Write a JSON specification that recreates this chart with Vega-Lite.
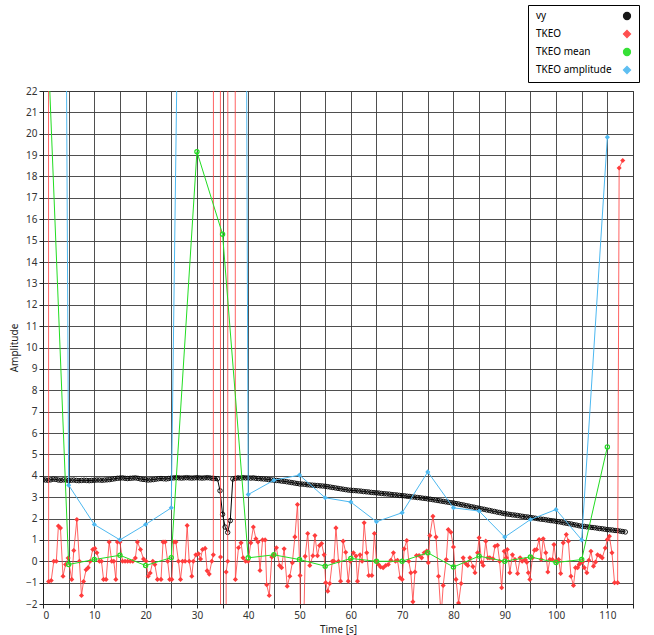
{
"$schema":"https://vega.github.io/schema/vega-lite/v6.json",
"width":590,"height":513,
"autosize":{"type":"none"},
"padding":{"left":43,"top":91,"right":21,"bottom":31},
"background":"white",
"config":{
 "view":{"stroke":"#222","strokeWidth":1},
 "font":"Noto Sans",
 "axis":{"labelFont":"Noto Sans","labelFontSize":10,"labelColor":"#333","titleFont":"Noto Sans","titleFontSize":10,"titleFontWeight":"normal","titleColor":"#222","domainColor":"#222","tickColor":"#222","tickSize":4,"gridColor":"#3c3c3c","gridWidth":1,"gridOpacity":0.9},
 "legend":{"orient":"none","legendX":485,"legendY":-86,"strokeColor":"#000","fillColor":"#fff","padding":6,"labelFont":"Noto Sans","labelFontSize":10,"labelColor":"#000","rowPadding":6,"symbolSize":50,"labelOffset":-96,"symbolOffset":88,"symbolStrokeWidth":1.2}
},
"data":{"values":[
{"s":"vy","t":0,"v":3.82},{"s":"vy","t":0.5,"v":3.8},{"s":"vy","t":1,"v":3.79},{"s":"vy","t":1.5,"v":3.81},{"s":"vy","t":2,"v":3.84},{"s":"vy","t":2.5,"v":3.83},{"s":"vy","t":3,"v":3.8},{"s":"vy","t":3.5,"v":3.79},{"s":"vy","t":4,"v":3.81},{"s":"vy","t":4.5,"v":3.8},
{"s":"vy","t":5,"v":3.78},{"s":"vy","t":5.5,"v":3.79},{"s":"vy","t":6,"v":3.8},{"s":"vy","t":6.5,"v":3.78},{"s":"vy","t":7,"v":3.77},{"s":"vy","t":7.5,"v":3.78},{"s":"vy","t":8,"v":3.79},{"s":"vy","t":8.5,"v":3.78},{"s":"vy","t":9,"v":3.77},{"s":"vy","t":9.5,"v":3.78},
{"s":"vy","t":10,"v":3.79},{"s":"vy","t":10.5,"v":3.8},{"s":"vy","t":11,"v":3.8},{"s":"vy","t":11.5,"v":3.79},{"s":"vy","t":12,"v":3.8},{"s":"vy","t":12.5,"v":3.81},{"s":"vy","t":13,"v":3.82},{"s":"vy","t":13.5,"v":3.84},{"s":"vy","t":14,"v":3.86},{"s":"vy","t":14.5,"v":3.88},
{"s":"vy","t":15,"v":3.89},{"s":"vy","t":15.5,"v":3.9},{"s":"vy","t":16,"v":3.88},{"s":"vy","t":16.5,"v":3.87},{"s":"vy","t":17,"v":3.88},{"s":"vy","t":17.5,"v":3.89},{"s":"vy","t":18,"v":3.9},{"s":"vy","t":18.5,"v":3.88},{"s":"vy","t":19,"v":3.85},{"s":"vy","t":19.5,"v":3.83},
{"s":"vy","t":20,"v":3.82},{"s":"vy","t":20.5,"v":3.8},{"s":"vy","t":21,"v":3.81},{"s":"vy","t":21.5,"v":3.82},{"s":"vy","t":22,"v":3.84},{"s":"vy","t":22.5,"v":3.86},{"s":"vy","t":23,"v":3.87},{"s":"vy","t":23.5,"v":3.86},{"s":"vy","t":24,"v":3.85},{"s":"vy","t":24.5,"v":3.87},
{"s":"vy","t":25,"v":3.89},{"s":"vy","t":25.5,"v":3.9},{"s":"vy","t":26,"v":3.91},{"s":"vy","t":26.5,"v":3.9},{"s":"vy","t":27,"v":3.89},{"s":"vy","t":27.5,"v":3.9},{"s":"vy","t":28,"v":3.91},{"s":"vy","t":28.5,"v":3.9},{"s":"vy","t":29,"v":3.89},{"s":"vy","t":29.5,"v":3.9},
{"s":"vy","t":30,"v":3.91},{"s":"vy","t":30.5,"v":3.9},{"s":"vy","t":31,"v":3.89},{"s":"vy","t":31.5,"v":3.9},{"s":"vy","t":32,"v":3.91},{"s":"vy","t":32.5,"v":3.9},{"s":"vy","t":33,"v":3.88},{"s":"vy","t":33.5,"v":3.87},{"s":"vy","t":34,"v":3.86},{"s":"vy","t":34.5,"v":3.3},
{"s":"vy","t":35,"v":2.2},{"s":"vy","t":35.5,"v":1.6},{"s":"vy","t":36,"v":1.35},{"s":"vy","t":36.5,"v":1.9},{"s":"vy","t":37,"v":3.85},{"s":"vy","t":37.5,"v":3.88},{"s":"vy","t":38,"v":3.9},{"s":"vy","t":38.5,"v":3.89},{"s":"vy","t":39,"v":3.91},{"s":"vy","t":39.5,"v":3.9},
{"s":"vy","t":40,"v":3.9},{"s":"vy","t":40.5,"v":3.89},{"s":"vy","t":41,"v":3.9},{"s":"vy","t":41.5,"v":3.88},{"s":"vy","t":42,"v":3.87},{"s":"vy","t":42.5,"v":3.86},{"s":"vy","t":43,"v":3.85},{"s":"vy","t":43.5,"v":3.84},{"s":"vy","t":44,"v":3.82},{"s":"vy","t":44.5,"v":3.81},
{"s":"vy","t":45,"v":3.79},{"s":"vy","t":45.5,"v":3.78},{"s":"vy","t":46,"v":3.77},{"s":"vy","t":46.5,"v":3.75},{"s":"vy","t":47,"v":3.74},{"s":"vy","t":47.5,"v":3.72},{"s":"vy","t":48,"v":3.7},{"s":"vy","t":48.5,"v":3.68},{"s":"vy","t":49,"v":3.66},{"s":"vy","t":49.5,"v":3.64},
{"s":"vy","t":50,"v":3.62},{"s":"vy","t":50.5,"v":3.61},{"s":"vy","t":51,"v":3.6},{"s":"vy","t":51.5,"v":3.58},{"s":"vy","t":52,"v":3.57},{"s":"vy","t":52.5,"v":3.56},{"s":"vy","t":53,"v":3.55},{"s":"vy","t":53.5,"v":3.54},{"s":"vy","t":54,"v":3.53},{"s":"vy","t":54.5,"v":3.52},
{"s":"vy","t":55,"v":3.51},{"s":"vy","t":55.5,"v":3.49},{"s":"vy","t":56,"v":3.47},{"s":"vy","t":56.5,"v":3.45},{"s":"vy","t":57,"v":3.43},{"s":"vy","t":57.5,"v":3.41},{"s":"vy","t":58,"v":3.39},{"s":"vy","t":58.5,"v":3.37},{"s":"vy","t":59,"v":3.35},{"s":"vy","t":59.5,"v":3.33},
{"s":"vy","t":60,"v":3.32},{"s":"vy","t":60.5,"v":3.31},{"s":"vy","t":61,"v":3.3},{"s":"vy","t":61.5,"v":3.29},{"s":"vy","t":62,"v":3.28},{"s":"vy","t":62.5,"v":3.26},{"s":"vy","t":63,"v":3.25},{"s":"vy","t":63.5,"v":3.24},{"s":"vy","t":64,"v":3.22},{"s":"vy","t":64.5,"v":3.21},
{"s":"vy","t":65,"v":3.2},{"s":"vy","t":65.5,"v":3.19},{"s":"vy","t":66,"v":3.17},{"s":"vy","t":66.5,"v":3.16},{"s":"vy","t":67,"v":3.15},{"s":"vy","t":67.5,"v":3.14},{"s":"vy","t":68,"v":3.12},{"s":"vy","t":68.5,"v":3.11},{"s":"vy","t":69,"v":3.1},{"s":"vy","t":69.5,"v":3.08},
{"s":"vy","t":70,"v":3.07},{"s":"vy","t":70.5,"v":3.06},{"s":"vy","t":71,"v":3.04},{"s":"vy","t":71.5,"v":3.03},{"s":"vy","t":72,"v":3.01},{"s":"vy","t":72.5,"v":3.0},{"s":"vy","t":73,"v":2.98},{"s":"vy","t":73.5,"v":2.97},{"s":"vy","t":74,"v":2.95},{"s":"vy","t":74.5,"v":2.94},
{"s":"vy","t":75,"v":2.92},{"s":"vy","t":75.5,"v":2.9},{"s":"vy","t":76,"v":2.88},{"s":"vy","t":76.5,"v":2.86},{"s":"vy","t":77,"v":2.84},{"s":"vy","t":77.5,"v":2.82},{"s":"vy","t":78,"v":2.8},{"s":"vy","t":78.5,"v":2.78},{"s":"vy","t":79,"v":2.76},{"s":"vy","t":79.5,"v":2.74},
{"s":"vy","t":80,"v":2.73},{"s":"vy","t":80.5,"v":2.7},{"s":"vy","t":81,"v":2.68},{"s":"vy","t":81.5,"v":2.65},{"s":"vy","t":82,"v":2.63},{"s":"vy","t":82.5,"v":2.6},{"s":"vy","t":83,"v":2.58},{"s":"vy","t":83.5,"v":2.55},{"s":"vy","t":84,"v":2.53},{"s":"vy","t":84.5,"v":2.5},
{"s":"vy","t":85,"v":2.48},{"s":"vy","t":85.5,"v":2.45},{"s":"vy","t":86,"v":2.43},{"s":"vy","t":86.5,"v":2.4},{"s":"vy","t":87,"v":2.38},{"s":"vy","t":87.5,"v":2.35},{"s":"vy","t":88,"v":2.33},{"s":"vy","t":88.5,"v":2.3},{"s":"vy","t":89,"v":2.28},{"s":"vy","t":89.5,"v":2.25},
{"s":"vy","t":90,"v":2.23},{"s":"vy","t":90.5,"v":2.21},{"s":"vy","t":91,"v":2.19},{"s":"vy","t":91.5,"v":2.17},{"s":"vy","t":92,"v":2.16},{"s":"vy","t":92.5,"v":2.14},{"s":"vy","t":93,"v":2.12},{"s":"vy","t":93.5,"v":2.1},{"s":"vy","t":94,"v":2.08},{"s":"vy","t":94.5,"v":2.07},
{"s":"vy","t":95,"v":2.05},{"s":"vy","t":95.5,"v":2.03},{"s":"vy","t":96,"v":2.01},{"s":"vy","t":96.5,"v":1.99},{"s":"vy","t":97,"v":1.97},{"s":"vy","t":97.5,"v":1.96},{"s":"vy","t":98,"v":1.94},{"s":"vy","t":98.5,"v":1.92},{"s":"vy","t":99,"v":1.9},{"s":"vy","t":99.5,"v":1.89},
{"s":"vy","t":100,"v":1.87},{"s":"vy","t":100.5,"v":1.85},{"s":"vy","t":101,"v":1.83},{"s":"vy","t":101.5,"v":1.8},{"s":"vy","t":102,"v":1.78},{"s":"vy","t":102.5,"v":1.76},{"s":"vy","t":103,"v":1.74},{"s":"vy","t":103.5,"v":1.71},{"s":"vy","t":104,"v":1.69},{"s":"vy","t":104.5,"v":1.66},
{"s":"vy","t":105,"v":1.64},{"s":"vy","t":105.5,"v":1.63},{"s":"vy","t":106,"v":1.61},{"s":"vy","t":106.5,"v":1.6},{"s":"vy","t":107,"v":1.58},{"s":"vy","t":107.5,"v":1.57},{"s":"vy","t":108,"v":1.55},{"s":"vy","t":108.5,"v":1.53},{"s":"vy","t":109,"v":1.52},{"s":"vy","t":109.5,"v":1.5},
{"s":"vy","t":110,"v":1.48},{"s":"vy","t":110.5,"v":1.47},{"s":"vy","t":111,"v":1.46},{"s":"vy","t":111.5,"v":1.44},{"s":"vy","t":112,"v":1.43},{"s":"vy","t":112.5,"v":1.41},{"s":"vy","t":113,"v":1.39},{"s":"vy","t":113.5,"v":1.37},
{"s":"TKEO","t":0.6,"v":500},{"s":"TKEO","t":1.1,"v":-0.95},{"s":"TKEO","t":1.6,"v":-0.9},{"s":"TKEO","t":2.1,"v":0},{"s":"TKEO","t":2.6,"v":0},{"s":"TKEO","t":3.0,"v":1.65},{"s":"TKEO","t":3.4,"v":1.55},{"s":"TKEO","t":3.9,"v":-0.7},{"s":"TKEO","t":4.4,"v":-0.15},{"s":"TKEO","t":4.9,"v":0.15},
{"s":"TKEO","t":5.6,"v":-0.85},{"s":"TKEO","t":6.0,"v":0.5},{"s":"TKEO","t":6.6,"v":1.95},{"s":"TKEO","t":7.1,"v":0},{"s":"TKEO","t":7.5,"v":-1.6},{"s":"TKEO","t":7.9,"v":-0.95},{"s":"TKEO","t":8.4,"v":-0.4},{"s":"TKEO","t":8.8,"v":-0.3},{"s":"TKEO","t":9.2,"v":0},{"s":"TKEO","t":9.7,"v":0.55},
{"s":"TKEO","t":10.1,"v":0.6},{"s":"TKEO","t":10.5,"v":0.4},{"s":"TKEO","t":11.0,"v":0},{"s":"TKEO","t":11.4,"v":0},{"s":"TKEO","t":11.8,"v":-0.85},{"s":"TKEO","t":12.3,"v":-0.85},{"s":"TKEO","t":12.9,"v":0.9},{"s":"TKEO","t":13.4,"v":0},{"s":"TKEO","t":13.8,"v":0},{"s":"TKEO","t":14.2,"v":-0.85},
{"s":"TKEO","t":14.5,"v":0.9},{"s":"TKEO","t":15.0,"v":0.9},{"s":"TKEO","t":15.5,"v":0},{"s":"TKEO","t":16.0,"v":0},{"s":"TKEO","t":16.5,"v":0},{"s":"TKEO","t":17.0,"v":0},{"s":"TKEO","t":17.5,"v":0},{"s":"TKEO","t":18.0,"v":0.15},{"s":"TKEO","t":18.4,"v":0.9},{"s":"TKEO","t":19.0,"v":0.55},
{"s":"TKEO","t":19.6,"v":0.1},{"s":"TKEO","t":20.1,"v":0},{"s":"TKEO","t":20.5,"v":-0.7},{"s":"TKEO","t":20.9,"v":-0.55},{"s":"TKEO","t":21.4,"v":0},{"s":"TKEO","t":21.8,"v":-0.15},{"s":"TKEO","t":22.3,"v":-0.85},{"s":"TKEO","t":23.0,"v":-0.85},{"s":"TKEO","t":23.4,"v":0.9},{"s":"TKEO","t":23.8,"v":0.9},
{"s":"TKEO","t":24.3,"v":0},{"s":"TKEO","t":24.7,"v":-0.85},{"s":"TKEO","t":25.1,"v":-0.85},{"s":"TKEO","t":25.5,"v":0.9},{"s":"TKEO","t":25.9,"v":0.9},{"s":"TKEO","t":26.4,"v":0},{"s":"TKEO","t":26.8,"v":-0.85},{"s":"TKEO","t":27.2,"v":0},{"s":"TKEO","t":27.7,"v":0},{"s":"TKEO","t":28.1,"v":1.67},
{"s":"TKEO","t":28.5,"v":0},{"s":"TKEO","t":29.0,"v":-0.7},{"s":"TKEO","t":29.3,"v":0},{"s":"TKEO","t":29.8,"v":0.3},{"s":"TKEO","t":30.3,"v":0.35},{"s":"TKEO","t":30.7,"v":0.1},{"s":"TKEO","t":31.1,"v":0.55},{"s":"TKEO","t":31.6,"v":0.6},{"s":"TKEO","t":32.0,"v":-0.45},{"s":"TKEO","t":32.4,"v":-0.6},
{"s":"TKEO","t":32.9,"v":0},{"s":"TKEO","t":33.2,"v":0.3},{"s":"TKEO","t":33.9,"v":800},{"s":"TKEO","t":34.6,"v":0.2},{"s":"TKEO","t":35.1,"v":-500},{"s":"TKEO","t":35.7,"v":-0.5},{"s":"TKEO","t":36.0,"v":0},{"s":"TKEO","t":36.7,"v":600},{"s":"TKEO","t":37.5,"v":-0.85},{"s":"TKEO","t":38.1,"v":0.63},
{"s":"TKEO","t":38.6,"v":0.86},{"s":"TKEO","t":39.0,"v":0.16},{"s":"TKEO","t":39.5,"v":0},{"s":"TKEO","t":40.0,"v":0},{"s":"TKEO","t":40.5,"v":0.86},{"s":"TKEO","t":41.0,"v":1.6},{"s":"TKEO","t":41.5,"v":1.05},{"s":"TKEO","t":41.9,"v":0.9},{"s":"TKEO","t":42.3,"v":-0.43},{"s":"TKEO","t":42.8,"v":1.0},
{"s":"TKEO","t":43.3,"v":1.0},{"s":"TKEO","t":43.6,"v":-1.1},{"s":"TKEO","t":44.1,"v":-1.6},{"s":"TKEO","t":44.6,"v":0.2},{"s":"TKEO","t":45.0,"v":0.3},{"s":"TKEO","t":45.5,"v":0.63},{"s":"TKEO","t":46.1,"v":-0.2},{"s":"TKEO","t":46.5,"v":-0.3},{"s":"TKEO","t":47.0,"v":0.58},{"s":"TKEO","t":47.6,"v":-1.17},
{"s":"TKEO","t":48.1,"v":-0.7},{"s":"TKEO","t":48.6,"v":-0.07},{"s":"TKEO","t":49.1,"v":1.14},{"s":"TKEO","t":49.6,"v":2.65},{"s":"TKEO","t":50.1,"v":-0.67},{"s":"TKEO","t":50.4,"v":-8},{"s":"TKEO","t":51.1,"v":0.23},{"s":"TKEO","t":51.6,"v":1.3},{"s":"TKEO","t":52.0,"v":-0.2},{"s":"TKEO","t":52.6,"v":0.26},
{"s":"TKEO","t":53.0,"v":1.2},{"s":"TKEO","t":53.5,"v":0.26},{"s":"TKEO","t":53.9,"v":0.74},{"s":"TKEO","t":54.3,"v":0.83},{"s":"TKEO","t":54.8,"v":0.3},{"s":"TKEO","t":55.1,"v":-1.0},{"s":"TKEO","t":55.5,"v":-1.4},{"s":"TKEO","t":55.9,"v":-1.04},{"s":"TKEO","t":56.4,"v":0},{"s":"TKEO","t":56.7,"v":0},
{"s":"TKEO","t":57.1,"v":1.56},{"s":"TKEO","t":57.6,"v":0},{"s":"TKEO","t":58.0,"v":-0.93},{"s":"TKEO","t":58.5,"v":0.94},{"s":"TKEO","t":59.0,"v":0.42},{"s":"TKEO","t":59.5,"v":-0.93},{"s":"TKEO","t":59.9,"v":0},{"s":"TKEO","t":60.5,"v":0.4},{"s":"TKEO","t":61.0,"v":0.24},{"s":"TKEO","t":61.3,"v":-0.93},
{"s":"TKEO","t":61.8,"v":0.3},{"s":"TKEO","t":62.2,"v":0},{"s":"TKEO","t":62.6,"v":1.8},{"s":"TKEO","t":63.1,"v":0.4},{"s":"TKEO","t":63.5,"v":-0.67},{"s":"TKEO","t":64.1,"v":-0.67},{"s":"TKEO","t":64.6,"v":1.3},{"s":"TKEO","t":65.0,"v":0},{"s":"TKEO","t":65.4,"v":-0.15},{"s":"TKEO","t":65.8,"v":-0.27},
{"s":"TKEO","t":66.3,"v":-0.3},{"s":"TKEO","t":66.8,"v":-0.2},{"s":"TKEO","t":67.3,"v":-0.15},{"s":"TKEO","t":67.8,"v":0.05},{"s":"TKEO","t":68.3,"v":0.4},{"s":"TKEO","t":68.7,"v":0},{"s":"TKEO","t":69.1,"v":0.05},{"s":"TKEO","t":69.6,"v":-0.77},{"s":"TKEO","t":70.0,"v":-0.85},{"s":"TKEO","t":70.4,"v":0.58},
{"s":"TKEO","t":70.9,"v":0.97},{"s":"TKEO","t":71.3,"v":0},{"s":"TKEO","t":71.7,"v":-0.54},{"s":"TKEO","t":72.1,"v":-1.9},{"s":"TKEO","t":72.5,"v":-0.5},{"s":"TKEO","t":72.8,"v":0.27},{"s":"TKEO","t":73.3,"v":0.27},{"s":"TKEO","t":73.8,"v":0.16},{"s":"TKEO","t":74.3,"v":0.4},{"s":"TKEO","t":74.8,"v":0.48},
{"s":"TKEO","t":75.1,"v":-0.07},{"s":"TKEO","t":75.4,"v":1.2},{"s":"TKEO","t":76.0,"v":2.1},{"s":"TKEO","t":76.6,"v":1.13},{"s":"TKEO","t":77.1,"v":-0.7},{"s":"TKEO","t":77.6,"v":-2.6},{"s":"TKEO","t":78.0,"v":-1.13},{"s":"TKEO","t":78.6,"v":0.08},{"s":"TKEO","t":79.0,"v":1.48},{"s":"TKEO","t":79.5,"v":1.36},
{"s":"TKEO","t":80.0,"v":0.67},{"s":"TKEO","t":80.5,"v":-0.85},{"s":"TKEO","t":81.0,"v":-1.95},{"s":"TKEO","t":81.5,"v":-1.04},{"s":"TKEO","t":81.9,"v":0.16},{"s":"TKEO","t":82.4,"v":-0.1},{"s":"TKEO","t":82.8,"v":-0.2},{"s":"TKEO","t":83.2,"v":0.16},{"s":"TKEO","t":83.8,"v":-0.25},{"s":"TKEO","t":84.2,"v":-0.54},
{"s":"TKEO","t":84.7,"v":0.4},{"s":"TKEO","t":85.0,"v":1.1},{"s":"TKEO","t":85.5,"v":-0.05},{"s":"TKEO","t":85.8,"v":-0.2},{"s":"TKEO","t":86.3,"v":0.94},{"s":"TKEO","t":86.7,"v":0.16},{"s":"TKEO","t":87.1,"v":0.16},{"s":"TKEO","t":87.7,"v":0.12},{"s":"TKEO","t":88.1,"v":0.7},{"s":"TKEO","t":88.6,"v":0.75},
{"s":"TKEO","t":89.0,"v":0},{"s":"TKEO","t":89.4,"v":-1.24},{"s":"TKEO","t":89.9,"v":0.47},{"s":"TKEO","t":90.3,"v":0.16},{"s":"TKEO","t":90.5,"v":0.55},{"s":"TKEO","t":91.0,"v":-0.54},{"s":"TKEO","t":91.5,"v":0.3},{"s":"TKEO","t":92.0,"v":0.08},{"s":"TKEO","t":92.5,"v":-0.57},{"s":"TKEO","t":93.0,"v":0.16},
{"s":"TKEO","t":93.4,"v":0},{"s":"TKEO","t":94.0,"v":0.08},{"s":"TKEO","t":94.3,"v":-0.05},{"s":"TKEO","t":94.6,"v":-0.54},{"s":"TKEO","t":94.9,"v":-0.85},{"s":"TKEO","t":95.4,"v":0.16},{"s":"TKEO","t":95.8,"v":0.52},{"s":"TKEO","t":96.2,"v":0.55},{"s":"TKEO","t":96.7,"v":1.02},{"s":"TKEO","t":97.1,"v":0.08},
{"s":"TKEO","t":97.5,"v":1.05},{"s":"TKEO","t":98.0,"v":0.4},{"s":"TKEO","t":98.4,"v":-0.5},{"s":"TKEO","t":98.8,"v":0.08},{"s":"TKEO","t":99.3,"v":0.08},{"s":"TKEO","t":99.6,"v":0.78},{"s":"TKEO","t":100.0,"v":0},{"s":"TKEO","t":100.5,"v":0.08},{"s":"TKEO","t":100.9,"v":-0.57},{"s":"TKEO","t":101.4,"v":0.86},
{"s":"TKEO","t":102.0,"v":1.25},{"s":"TKEO","t":102.4,"v":0.94},{"s":"TKEO","t":102.9,"v":-0.7},{"s":"TKEO","t":103.4,"v":-1.13},{"s":"TKEO","t":103.8,"v":-0.3},{"s":"TKEO","t":104.2,"v":-0.3},{"s":"TKEO","t":104.5,"v":-0.15},{"s":"TKEO","t":104.8,"v":-0.07},{"s":"TKEO","t":105.2,"v":-0.02},{"s":"TKEO","t":105.5,"v":-0.3},
{"s":"TKEO","t":106.0,"v":-0.54},{"s":"TKEO","t":106.4,"v":0.05},{"s":"TKEO","t":106.8,"v":0.47},{"s":"TKEO","t":107.3,"v":-0.23},{"s":"TKEO","t":107.7,"v":-0.04},{"s":"TKEO","t":108.1,"v":0.3},{"s":"TKEO","t":108.6,"v":0.24},{"s":"TKEO","t":109.0,"v":0.16},{"s":"TKEO","t":109.6,"v":0.62},{"s":"TKEO","t":110.0,"v":1.02},
{"s":"TKEO","t":110.4,"v":1.17},{"s":"TKEO","t":110.9,"v":0.4},{"s":"TKEO","t":111.4,"v":-1.0},{"s":"TKEO","t":112.0,"v":-1.0},{"s":"TKEO","t":112.3,"v":18.4},{"s":"TKEO","t":113.0,"v":18.75},
{"s":"TKEO mean","t":0,"v":30},{"s":"TKEO mean","t":5,"v":-0.15},{"s":"TKEO mean","t":10,"v":0.08},{"s":"TKEO mean","t":15,"v":0.28},{"s":"TKEO mean","t":20,"v":-0.2},{"s":"TKEO mean","t":25,"v":0.17},{"s":"TKEO mean","t":30,"v":19.16},{"s":"TKEO mean","t":35,"v":15.3},{"s":"TKEO mean","t":40,"v":0.16},{"s":"TKEO mean","t":45,"v":0.3},{"s":"TKEO mean","t":50,"v":0.08},{"s":"TKEO mean","t":55,"v":-0.23},
{"s":"TKEO mean","t":60,"v":0.13},{"s":"TKEO mean","t":65,"v":0},{"s":"TKEO mean","t":70,"v":0},{"s":"TKEO mean","t":75,"v":0.4},{"s":"TKEO mean","t":80,"v":-0.27},{"s":"TKEO mean","t":85,"v":0.24},{"s":"TKEO mean","t":90,"v":0},{"s":"TKEO mean","t":95,"v":0.2},{"s":"TKEO mean","t":100,"v":-0.06},{"s":"TKEO mean","t":105,"v":0.08},{"s":"TKEO mean","t":110,"v":5.35},
{"s":"TKEO amplitude","t":0,"v":233},{"s":"TKEO amplitude","t":5,"v":3.56},{"s":"TKEO amplitude","t":10,"v":1.72},{"s":"TKEO amplitude","t":15,"v":1.0},{"s":"TKEO amplitude","t":20,"v":1.72},{"s":"TKEO amplitude","t":25,"v":2.5},{"s":"TKEO amplitude","t":30,"v":95},{"s":"TKEO amplitude","t":35,"v":318},{"s":"TKEO amplitude","t":40,"v":3.12},{"s":"TKEO amplitude","t":45,"v":3.79},{"s":"TKEO amplitude","t":50,"v":4.03},{"s":"TKEO amplitude","t":55,"v":2.97},
{"s":"TKEO amplitude","t":60,"v":2.77},{"s":"TKEO amplitude","t":65,"v":1.85},{"s":"TKEO amplitude","t":70,"v":2.27},{"s":"TKEO amplitude","t":75,"v":4.18},{"s":"TKEO amplitude","t":80,"v":2.5},{"s":"TKEO amplitude","t":85,"v":2.35},{"s":"TKEO amplitude","t":90,"v":1.13},{"s":"TKEO amplitude","t":95,"v":1.95},{"s":"TKEO amplitude","t":100,"v":2.42},{"s":"TKEO amplitude","t":105,"v":1.0},{"s":"TKEO amplitude","t":110,"v":19.84}
]},
"encoding":{
 "x":{"field":"t","type":"quantitative","scale":{"domain":[0,115],"nice":false,"zero":false},"axis":{"values":[0,5,10,15,20,25,30,35,40,45,50,55,60,65,70,75,80,85,90,95,100,105,110,115],"title":"Time [s]","titlePadding":4,"labelPadding":2}},
 "y":{"field":"v","type":"quantitative","scale":{"domain":[-2,22],"nice":false,"zero":false},"axis":{"values":[-2,-1,0,1,2,3,4,5,6,7,8,9,10,11,12,13,14,15,16,17,18,19,20,21,22],"title":"Amplitude","titlePadding":6,"labelPadding":2}},
 "color":{"field":"s","type":"nominal","scale":{"domain":["vy","TKEO","TKEO mean","TKEO amplitude"],"range":["#000000","#ff3c3c","#22dd22","#4db8f0"]},"legend":{"title":null}}
},
"layer":[
 {"transform":[{"filter":"datum.s==='vy'"}],"mark":{"type":"line","clip":true,"strokeWidth":1}},
 {"transform":[{"filter":"datum.s==='vy'"}],"mark":{"type":"point","clip":true,"filled":false,"size":20,"strokeWidth":1,"opacity":0.9},"encoding":{"shape":{"field":"s","type":"nominal","scale":{"domain":["vy","TKEO","TKEO mean","TKEO amplitude"],"range":["circle","diamond","circle","diamond"]},"legend":{"title":null}}}},
 {"transform":[{"filter":"datum.s==='TKEO'"}],"mark":{"type":"line","clip":true,"strokeWidth":1,"strokeOpacity":0.8}},
 {"transform":[{"filter":"datum.s==='TKEO'"}],"mark":{"type":"point","clip":true,"filled":true,"size":26,"opacity":1},"encoding":{"shape":{"field":"s","type":"nominal"}}},
 {"transform":[{"filter":"datum.s==='TKEO mean'"}],"mark":{"type":"line","clip":true,"strokeWidth":1}},
 {"transform":[{"filter":"datum.s==='TKEO mean'"}],"mark":{"type":"point","clip":true,"filled":false,"size":18,"strokeWidth":1.2,"opacity":1},"encoding":{"shape":{"field":"s","type":"nominal"}}},
 {"transform":[{"filter":"datum.s==='TKEO amplitude'"}],"mark":{"type":"line","clip":true,"strokeWidth":1}},
 {"transform":[{"filter":"datum.s==='TKEO amplitude'"}],"mark":{"type":"point","clip":true,"filled":true,"size":26,"opacity":1},"encoding":{"shape":{"field":"s","type":"nominal"}}}
]
}
